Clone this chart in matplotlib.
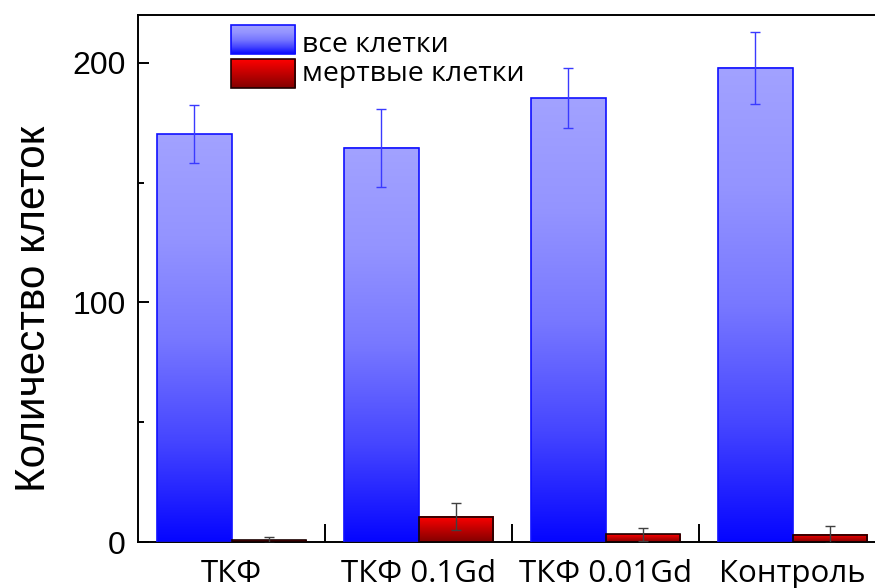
import numpy as np
import matplotlib.pyplot as plt
from matplotlib.colors import LinearSegmentedColormap
from matplotlib.patches import Rectangle

groups = ['ТКФ', 'ТКФ 0.1Gd', 'ТКФ 0.01Gd', 'Контроль']
all_cells = [170.3, 164.5, 185.2, 198.0]
all_err = [12.0, 16.2, 12.5, 15.0]
dead_cells = [0.8, 10.6, 3.2, 3.0]
dead_err = [1.2, 5.5, 2.8, 3.6]
series_names = ['все клетки', 'мертвые клетки']

plt.rcParams['font.family'] = ['Liberation Sans', 'DejaVu Sans']

blue_cmap = LinearSegmentedColormap.from_list(
    'blue_grad', [(0.0, '#0505ff'), (0.25, '#4646ff'), (0.5, '#7878ff'),
                  (0.75, '#9494ff'), (1.0, '#a2a2ff')])
red_cmap = LinearSegmentedColormap.from_list('red_grad', ['#820000', '#ff0000'])
grad = np.linspace(0, 1, 256).reshape(-1, 1)

fig = plt.figure(figsize=(8.75, 5.88), dpi=100)
ax = fig.add_axes([0.1577, 0.0782, 0.855, 0.8963])

x = np.arange(len(groups))
w = 0.4


def gradient_bars(xpos, heights, cmap, edge):
    bars = ax.bar(xpos, heights, width=w, color='none', edgecolor=edge,
                  linewidth=1.2, zorder=3)
    for b in bars:
        x0, y0 = b.get_x(), b.get_y()
        ax.imshow(grad, cmap=cmap, origin='lower', aspect='auto', zorder=2,
                  extent=[x0, x0 + b.get_width(), y0, y0 + b.get_height()])
    return bars


gradient_bars(x - w / 2, all_cells, blue_cmap, '#1010ff')
gradient_bars(x + w / 2, dead_cells, red_cmap, '#1a0000')

ax.errorbar(x - w / 2, all_cells, yerr=all_err, fmt='none', ecolor='#3a3aff',
            elinewidth=1, capsize=3.6, capthick=1, zorder=4)
ax.errorbar(x + w / 2, dead_cells, yerr=dead_err, fmt='none', ecolor='#404040',
            elinewidth=1, capsize=3.6, capthick=1, zorder=4)

# legend drawn by hand so the patches can carry the gradient
leg = [(0.981, 0.926, 0.9298, blue_cmap, '#1010ff'),
       (0.9165, 0.8615, 0.8748, red_cmap, '#200000')]
for (top, bot, base, cmap, edge), name in zip(leg, series_names):
    ax.imshow(grad, cmap=cmap, origin='lower', aspect='auto', zorder=5,
              extent=[0.1243, 0.2099, bot, top], transform=ax.transAxes)
    ax.add_patch(Rectangle((0.1243, bot), 0.2099 - 0.1243, top - bot,
                           transform=ax.transAxes, fill=False,
                           edgecolor=edge, linewidth=1.2, zorder=6))
    ax.text(0.2195, base, name, transform=ax.transAxes, fontsize=20.5,
            fontfamily='Open Sans', va='baseline', ha='left', zorder=6)

ax.set_xlim(-0.5, 3.5)
ax.set_ylim(0, 220)

ax.set_yticks([0, 100, 200])
ax.set_yticks([50, 150], minor=True)
ax.tick_params(axis='y', which='major', direction='in', length=8, width=1.4,
               pad=9, labelsize=23)
ax.tick_params(axis='y', which='minor', direction='in', length=4, width=1.4)

ax.set_xticks(x)
ax.set_xticklabels(groups, fontfamily='Open Sans', fontsize=22.5)
ax.set_xticks([0.5, 1.5, 2.5], minor=True)
ax.tick_params(axis='x', which='major', length=0, pad=12)
ax.tick_params(axis='x', which='minor', direction='in', length=13, width=1.4)

for side in ['left', 'bottom', 'top']:
    ax.spines[side].set_linewidth(1.4)
ax.spines['right'].set_visible(False)

ax.set_ylabel('Количество клеток', fontsize=30.5)
ax.yaxis.set_label_coords(-0.112, 0.442)

fig.savefig('out.png', dpi=100)
